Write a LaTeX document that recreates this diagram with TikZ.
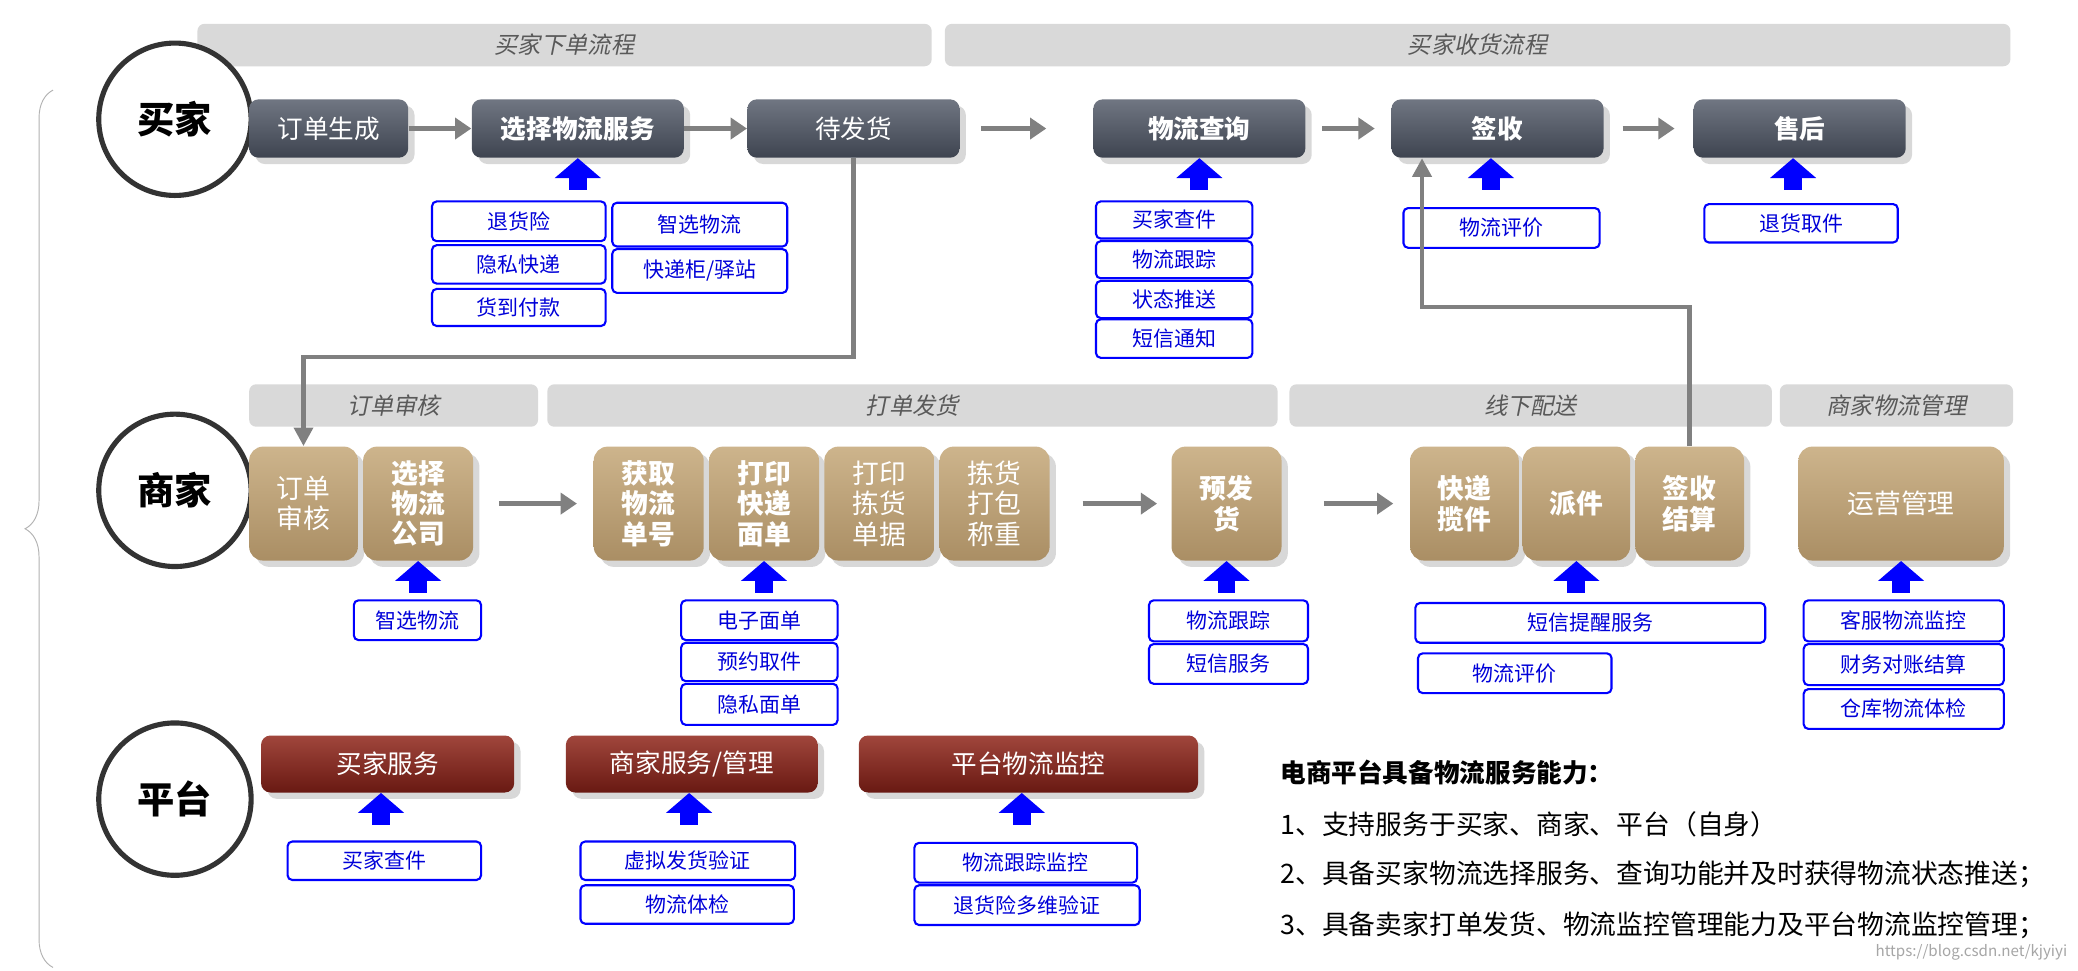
\documentclass[tikz,border=0pt]{standalone}
\usepackage{fontspec}
\setmainfont{Noto Sans CJK SC}
\newfontfamily\slfont{Noto Sans CJK SC}[FakeSlant=0.2]
\usetikzlibrary{arrows.meta,calc,shadows,decorations.pathreplacing}
\definecolor{darkbox}{RGB}{62,68,80}
\definecolor{darkboxtop}{RGB}{112,118,130}
\definecolor{tanbox}{RGB}{170,142,100}
\definecolor{tanboxtop}{RGB}{205,180,140}
\definecolor{redbox}{RGB}{105,25,18}
\definecolor{redboxtop}{RGB}{160,70,60}
\definecolor{bannergray}{RGB}{217,217,217}
\definecolor{arrowgray}{RGB}{128,128,128}
\newcommand{\bx}[7]{\node[#6,minimum width={(#4-#2)*0.02cm},minimum height={(#5-#3)*0.02cm}] (#1) at ({(#2+#4)/2},{(#3+#5)/2}) {#7};}
\tikzset{
    banner/.style={fill=bannergray,rounded corners=3pt,inner sep=0pt,font=\slfont\fontsize{10}{12}\selectfont,text=black!65},
    role/.style={circle,draw=black!80,line width=2.2pt,fill=white,minimum size=2.3cm,inner sep=0pt,font=\bfseries\fontsize{16}{19}\selectfont},
    dark/.style={rounded corners=4pt,top color=darkboxtop,bottom color=darkbox,text=white,inner sep=1pt,drop shadow={opacity=0.3},font=\fontsize{11}{13}\selectfont},
    tan/.style={rounded corners=6pt,top color=tanboxtop,bottom color=tanbox,text=white,inner sep=1pt,align=center,drop shadow={opacity=0.3},font=\fontsize{11.5}{13}\selectfont},
    red/.style={rounded corners=4pt,top color=redboxtop,bottom color=redbox,text=white,inner sep=1pt,drop shadow={opacity=0.3},font=\fontsize{11}{13}\selectfont},
    tag/.style={draw=blue,line width=0.9pt,rounded corners=2pt,fill=white,text=blue!85!black,inner sep=0pt,font=\fontsize{9}{11}\selectfont},
    flow/.style={arrowgray,line width=2.4pt,-{Triangle[width=9pt,length=7pt]}},
    link/.style={arrowgray,line width=2pt,-{Triangle[width=8pt,length=8pt]}},
    barrow/.style={blue,line width=0.27cm,-{Triangle[width=0.68cm,length=0.3cm]}},
    bf/.style={font=\bfseries\fontsize{11}{13}\selectfont},
    tbf/.style={font=\bfseries\fontsize{11.5}{13}\selectfont}
}
\begin{document}
\begin{tikzpicture}[x=0.02cm,y=-0.02cm]
    \useasboundingbox[fill=white] (0,0) rectangle (1568,732);
    % stage banners
    \bx{bnA}{149}{18}{703}{50}{banner}{买家下单流程}
    \bx{bnB}{713}{18}{1517}{50}{banner}{买家收货流程}
    \bx{bnC}{188}{290}{406}{322}{banner}{订单审核}
    \bx{bnD}{413}{290}{964}{322}{banner}{打单发货}
    \bx{bnE}{973}{290}{1337}{322}{banner}{线下配送}
    \bx{bnF}{1343}{290}{1519}{322}{banner}{商家物流管理}
    \draw[black!30,decorate,decoration={brace,amplitude=12pt}] (40,730) -- (40,68);

    % buyer
    \node[role] (buyer) at (132,90) {买家};
    \bx{ddsc}{188}{75}{308}{119}{dark}{订单生成}
    \bx{xzfw}{356}{75}{516}{119}{dark,bf}{选择物流服务}
    \bx{dfh}{564}{75}{724}{119}{dark}{待发货}
    \bx{wlcx}{825}{75}{985}{119}{dark,bf}{物流查询}
    \bx{qs}{1050}{75}{1210}{119}{dark,bf}{签收}
    \bx{sh}{1278}{75}{1438}{119}{dark,bf}{售后}

    \draw[flow] (ddsc) -- (xzfw);
    \draw[flow] (xzfw) -- (dfh);
    \draw[flow,shorten <=9pt,shorten >=20pt] (dfh) -- (wlcx);
    \draw[flow,shorten <=7pt,shorten >=7pt] (wlcx) -- (qs);
    \draw[flow,shorten <=8pt,shorten >=8pt] (qs) -- (sh);

    \bx{thx}{326}{152}{457}{182}{tag}{退货险}
    \bx{ysky}{326}{185}{457}{214}{tag}{隐私快递}
    \bx{hdfk}{326}{218}{457}{246}{tag}{货到付款}
    \bx{zxwl}{462}{153}{594}{186}{tag}{智选物流}
    \bx{kdg}{462}{188}{594}{221}{tag}{快递柜/驿站}
    \bx{mjcj}{827}{152}{945}{180}{tag}{买家查件}
    \bx{wlgz}{827}{182}{945}{210}{tag}{物流跟踪}
    \bx{zttx}{827}{212}{945}{240}{tag}{状态推送}
    \bx{dxtz}{827}{241}{945}{270}{tag}{短信通知}
    \bx{wlpj}{1059}{157}{1207}{187}{tag}{物流评价}
    \bx{thqj}{1286}{154}{1432}{183}{tag}{退货取件}

    \draw[barrow] ([yshift=-0.48cm]xzfw.south) -- (xzfw.south);
    \draw[barrow] ([yshift=-0.48cm]wlcx.south) -- (wlcx.south);
    \draw[barrow] ([xshift=-0.1cm,yshift=-0.48cm]qs.south) -- ([xshift=-0.1cm]qs.south);
    \draw[barrow] ([xshift=-0.1cm,yshift=-0.48cm]sh.south) -- ([xshift=-0.1cm]sh.south);

    % merchant
    \node[role] (merchant) at (132,370) {商家};
    \bx{shA}{188}{337}{270}{423}{tan}{订单\\审核}
    \bx{shB}{274}{337}{357}{423}{tan,tbf}{选择\\物流\\公司}
    \bx{hqdh}{448}{337}{531}{423}{tan,tbf}{获取\\物流\\单号}
    \bx{dymd}{535}{337}{618}{423}{tan,tbf}{打印\\快递\\面单}
    \bx{dyjh}{622}{337}{705}{423}{tan}{打印\\拣货\\单据}
    \bx{jhdb}{709}{337}{792}{423}{tan}{拣货\\打包\\称重}
    \bx{yfh}{884}{337}{967}{423}{tan,tbf}{预发\\货}
    \bx{kdlj}{1064}{337}{1146}{423}{tan,tbf}{快递\\揽件}
    \bx{pj}{1149}{337}{1230}{423}{tan,tbf}{派件}
    \bx{qsjs}{1234}{337}{1316}{423}{tan,tbf}{签收\\结算}
    \bx{yygl}{1357}{337}{1512}{423}{tan}{运营管理}

    \draw[flow,shorten <=11pt,shorten >=7pt] (shB) -- (hqdh);
    \draw[flow,shorten <=14pt,shorten >=6pt] (jhdb) -- (yfh);
    \draw[flow,shorten <=18pt,shorten >=7pt] (yfh) -- (kdlj);
    \draw[link] (dfh.south) -- ++(0,150) -| (shA.north);
    \draw[link] (qsjs.north) -- ++(0,-105) -| ([xshift=-1.14cm]qs.south);

    \bx{zxwl2}{267}{453}{363}{483}{tag}{智选物流}
    \bx{dzmd}{514}{453}{632}{483}{tag}{电子面单}
    \bx{yyqj}{514}{485}{632}{514}{tag}{预约取件}
    \bx{ysmd}{514}{516}{632}{547}{tag}{隐私面单}
    \bx{wlgz2}{867}{453}{987}{484}{tag}{物流跟踪}
    \bx{dxfw}{867}{486}{987}{516}{tag}{短信服务}
    \bx{dxtx}{1068}{455}{1332}{485}{tag}{短信提醒服务}
    \bx{wlpj2}{1070}{493}{1216}{523}{tag}{物流评价}
    \bx{kfjk}{1361}{453}{1512}{484}{tag}{客服物流监控}
    \bx{cwdz}{1361}{486}{1512}{517}{tag}{财务对账结算}
    \bx{ckwl}{1361}{520}{1512}{550}{tag}{仓库物流体检}

    \draw[barrow] ([yshift=-0.48cm]shB.south) -- (shB.south);
    \draw[barrow] ([yshift=-0.48cm]dymd.south) -- (dymd.south);
    \draw[barrow] ([yshift=-0.48cm]yfh.south) -- (yfh.south);
    \draw[barrow] ([yshift=-0.48cm]pj.south) -- (pj.south);
    \draw[barrow] ([yshift=-0.48cm]yygl.south) -- (yygl.south);

    % platform
    \node[role] (platform) at (132,603) {平台};
    \bx{mjfw}{197}{555}{388}{598}{red}{买家服务}
    \bx{sjfw}{427}{555}{617}{598}{red}{商家服务/管理}
    \bx{ptjk}{648}{555}{904}{598}{red}{平台物流监控}

    \bx{mjcj2}{217}{635}{363}{664}{tag}{买家查件}
    \bx{xjfh}{438}{635}{600}{664}{tag}{虚拟发货验证}
    \bx{wltj}{438}{668}{599}{697}{tag}{物流体检}
    \bx{gzjk}{690}{636}{858}{666}{tag}{物流跟踪监控}
    \bx{thyz}{690}{668}{860}{698}{tag}{退货险多维验证}

    \draw[barrow] ([xshift=-0.1cm,yshift=-0.48cm]mjfw.south) -- ([xshift=-0.1cm]mjfw.south);
    \draw[barrow] ([xshift=-0.04cm,yshift=-0.48cm]sjfw.south) -- ([xshift=-0.04cm]sjfw.south);
    \draw[barrow] ([xshift=-0.1cm,yshift=-0.48cm]ptjk.south) -- ([xshift=-0.1cm]ptjk.south);

    % summary
    \node[anchor=west,font=\bfseries\fontsize{11}{13}\selectfont] (sumT) at (960,583) {电商平台具备物流服务能力：};
    \node[anchor=west,font=\fontsize{11.5}{13}\selectfont] (sum1) at (960,622) {1、支持服务于买家、商家、平台（自身）};
    \node[anchor=west,font=\fontsize{11.5}{13}\selectfont] (sum2) at (960,660) {2、具备买家物流选择服务、查询功能并及时获得物流状态推送；};
    \node[anchor=west,font=\fontsize{11.5}{13}\selectfont] (sum3) at (960,698) {3、具备卖家打单发货、物流监控管理能力及平台物流监控管理；};
    \node[anchor=east,text=black!35,font=\fontsize{6.5}{8}\selectfont] (mark) at (1566,719) {https://blog.csdn.net/kjyiyi};
\end{tikzpicture}
\end{document}
